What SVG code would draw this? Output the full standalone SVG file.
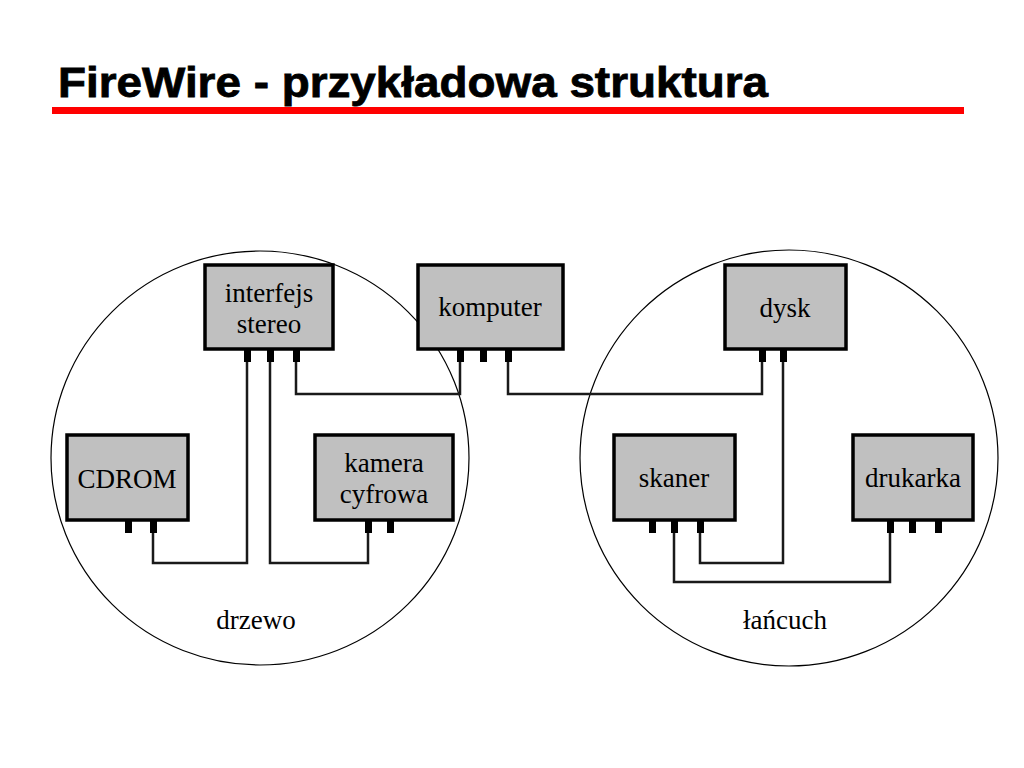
<svg xmlns="http://www.w3.org/2000/svg" width="1024" height="768" viewBox="0 0 1024 768">
<style>
.box{fill:#c0c0c0;stroke:#000;stroke-width:3.5}
.port{fill:#000}
.lbl{font-family:"Liberation Serif","Times New Roman",serif;font-size:27px;fill:#000;text-anchor:middle}
.wire{fill:none;stroke:#1a1a1a;stroke-width:2.5}
.ring{fill:none;stroke:#000;stroke-width:1.2}
</style>
<rect width="1024" height="768" fill="#fff"/>
<text x="58" y="97" font-family="'Liberation Sans',Arial,sans-serif" font-weight="bold" font-size="43" textLength="710" lengthAdjust="spacingAndGlyphs" fill="#000" stroke="#000" stroke-width="0.8">FireWire - przykładowa struktura</text>
<rect x="52" y="107" width="912" height="7" fill="#ff0000"/>
<g id="groups">
<ellipse class="ring" cx="260" cy="458" rx="209" ry="207"/>
<ellipse class="ring" cx="789" cy="458" rx="209" ry="208"/>
<text class="lbl" x="256" y="629">drzewo</text>
<text class="lbl" x="785" y="629">łańcuch</text>
</g>
<g id="connectors">
<path class="wire" d="M153,533 V563 H247 V360"/>
<path class="wire" d="M368,533 V563 H270 V360"/>
<path class="wire" d="M296,360 V394 H460 V360"/>
<path class="wire" d="M508,360 V394 H762 V360"/>
<path class="wire" d="M783,360 V563 H700 V533"/>
<path class="wire" d="M674,533 V582 H890 V533"/>
</g>
<g id="interfejs">
<rect class="box" x="205" y="265" width="128" height="84"/>
<rect class="port" x="244" y="349" width="7" height="13"/>
<rect class="port" x="267" y="349" width="7" height="13"/>
<rect class="port" x="293" y="349" width="7" height="13"/>
<text class="lbl" x="269" y="302">interfejs</text>
<text class="lbl" x="269" y="333">stereo</text>
</g>
<g id="komputer">
<rect class="box" x="418" y="265" width="145" height="84"/>
<rect class="port" x="457" y="349" width="7" height="13"/>
<rect class="port" x="480" y="349" width="7" height="13"/>
<rect class="port" x="505" y="349" width="7" height="13"/>
<text class="lbl" x="490" y="316">komputer</text>
</g>
<g id="dysk">
<rect class="box" x="725" y="265" width="121" height="84"/>
<rect class="port" x="759" y="349" width="7" height="13"/>
<rect class="port" x="780" y="349" width="7" height="13"/>
<text class="lbl" x="785" y="317">dysk</text>
</g>
<g id="cdrom">
<rect class="box" x="67" y="435" width="121" height="85"/>
<rect class="port" x="125" y="520" width="7" height="13"/>
<rect class="port" x="150" y="520" width="7" height="13"/>
<text class="lbl" x="127" y="488">CDROM</text>
</g>
<g id="kamera">
<rect class="box" x="315" y="435" width="138" height="85"/>
<rect class="port" x="365" y="520" width="7" height="13"/>
<rect class="port" x="387" y="520" width="7" height="13"/>
<text class="lbl" x="384" y="472">kamera</text>
<text class="lbl" x="384" y="503">cyfrowa</text>
</g>
<g id="skaner">
<rect class="box" x="614" y="435" width="121" height="85"/>
<rect class="port" x="649" y="520" width="7" height="13"/>
<rect class="port" x="671" y="520" width="7" height="13"/>
<rect class="port" x="697" y="520" width="7" height="13"/>
<text class="lbl" x="674" y="487">skaner</text>
</g>
<g id="drukarka">
<rect class="box" x="853" y="435" width="120" height="85"/>
<rect class="port" x="887" y="520" width="7" height="13"/>
<rect class="port" x="909" y="520" width="7" height="13"/>
<rect class="port" x="935" y="520" width="7" height="13"/>
<text class="lbl" x="913" y="487">drukarka</text>
</g>
</svg>
